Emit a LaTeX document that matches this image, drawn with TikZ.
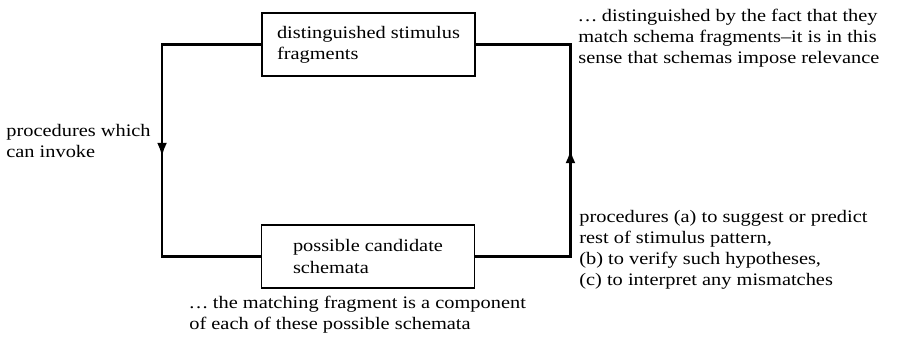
\documentclass[tikz,border=0pt]{standalone}
\usepackage{fontspec}
\setmainfont{Liberation Serif}[FakeStretch=1.16]
\usetikzlibrary{arrows.meta,positioning,decorations.markings}
\newcommand{\lead}{.\kern.9pt.\kern.9pt.}

\begin{document}
\begin{tikzpicture}[
    box/.style={rectangle, draw, line width=1.1pt, minimum width=4.26cm, minimum height=1.26cm, align=left},
    note/.style={align=left, inner sep=0pt, font=\fontsize{10}{12}\selectfont},
    loopline/.style={line width=1.6pt, postaction={decorate}},
    midarrow/.style={decoration={markings, mark=at position #1 with {\arrow{Latex[length=2.8mm,width=2mm]}}}}
]
    \useasboundingbox (0,0) rectangle (18.1,6.84);

    \node[box, font=\fontsize{10}{12}\selectfont] (frag) at (7.37,5.95) {distinguished stimulus\\fragments};
    \node[box, font=\fontsize{10}{12}\selectfont] (schem) at (7.36,1.71) {possible candidate\\schemata};

    \draw[loopline, midarrow=0.516] (frag.west) -- ++(-1.98,0) |- (schem.west);
    \draw[loopline, midarrow=0.504] (schem.east) -- ++(1.9,0) |- (frag.east);

    \node[note, anchor=west] (invoke) at (0.12,4.02) {procedures which\\can invoke};
    \node[note, anchor=west] (relev) at (11.56,6.07) {\lead\ distinguished by the fact that they\\match schema fragments--it is in this\\sense that schemas impose relevance};
    \node[note, anchor=west] (predict) at (11.58,1.84) {procedures (a) to suggest or predict\\rest of stimulus pattern,\\(b) to verify such hypotheses,\\(c) to interpret any mismatches};
    \node[note, anchor=west] (comp) at (3.78,0.54) {\lead\ the matching fragment is a component\\of each of these possible schemata};
\end{tikzpicture}
\end{document}
